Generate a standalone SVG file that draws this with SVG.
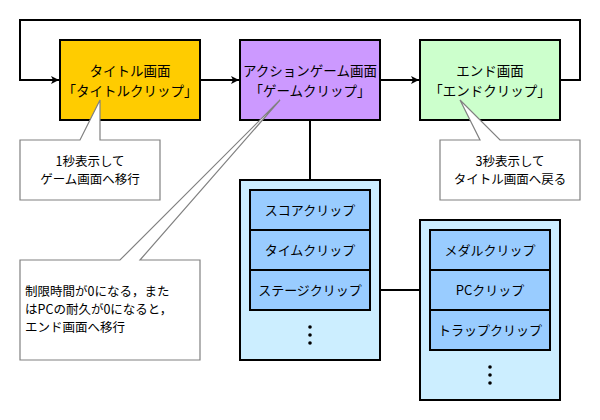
<svg xmlns="http://www.w3.org/2000/svg" width="600" height="420" viewBox="0 0 600 420">
<style>
text{font-family:"Noto Sans CJK JP","Noto Sans",sans-serif;fill:#000}
.n{stroke:#000;stroke-width:2}
.t{font-size:13.5px;text-anchor:middle}
.c{font-size:13px;text-anchor:middle}
.co{fill:#fff;stroke:#808080;stroke-width:1.2}
.ct{font-size:12.5px;text-anchor:middle}
.cl{font-size:12.5px}
.w{fill:none;stroke:#000;stroke-width:2}
</style>
<defs>
<marker id="ah" viewBox="0 0 10 10" refX="10" refY="5" markerWidth="8" markerHeight="8" orient="auto" markerUnits="userSpaceOnUse">
<path d="M0,0 L10,5 L0,10 L2.5,5 Z" fill="#000"/>
</marker>
</defs>
<g id="connectors">
<path class="w" d="M560,80 H580 V20 H20 V80 H59" marker-end="url(#ah)"/>
<path class="w" d="M200,80 H239" marker-end="url(#ah)"/>
<path class="w" d="M380,80 H419" marker-end="url(#ah)"/>
<path class="w" d="M310,120 V180"/>
<path class="w" d="M370,290 H420"/>
</g>
<g id="title">
<rect class="n" x="60" y="40" width="140" height="80" fill="#FFCC00"/>
<text class="t" x="130" y="76">タイトル画面</text>
<text class="t" x="130" y="96">「タイトルクリップ」</text>
</g>
<g id="action">
<rect class="n" x="240" y="40" width="140" height="80" fill="#CC99FF"/>
<text class="t" x="310" y="76">アクションゲーム画面</text>
<text class="t" x="310" y="96">「ゲームクリップ」</text>
</g>
<g id="end">
<rect class="n" x="420" y="40" width="140" height="80" fill="#CCFFCC"/>
<text class="t" x="490" y="76">エンド画面</text>
<text class="t" x="490" y="96">「エンドクリップ」</text>
</g>
<g id="callout1">
<path class="co" d="M20,140 H80 L100,100 V140 H160 V200 H20 Z"/>
<text class="ct" x="90" y="166">1秒表示して</text>
<text class="ct" x="90" y="184">ゲーム画面へ移行</text>
</g>
<g id="callout2">
<path class="co" d="M20,260 H120 L280,100 L140,260 H200 V360 H20 Z"/>
<text class="cl" x="25" y="296">制限時間が0になる，また</text>
<text class="cl" x="25" y="314">はPCの耐久が0になると，</text>
<text class="cl" x="25" y="332">エンド画面へ移行</text>
</g>
<g id="callout3">
<path class="co" d="M440,140 H480 L460,100 L500,140 H580 V200 H440 Z"/>
<text class="ct" x="510" y="166">3秒表示して</text>
<text class="ct" x="510" y="184">タイトル画面へ戻る</text>
</g>
<g id="gameClips">
<rect class="n" x="240" y="180" width="140" height="180" fill="#CCEEFF"/>
<rect class="n" x="250" y="190" width="120" height="40" fill="#99CCFF"/>
<rect class="n" x="250" y="230" width="120" height="40" fill="#99CCFF"/>
<rect class="n" x="250" y="270" width="120" height="40" fill="#99CCFF"/>
<text class="c" x="310" y="215">スコアクリップ</text>
<text class="c" x="310" y="255">タイムクリップ</text>
<text class="c" x="310" y="295">ステージクリップ</text>
<circle cx="310" cy="327" r="1.8"/>
<circle cx="310" cy="335" r="1.8"/>
<circle cx="310" cy="343" r="1.8"/>
</g>
<g id="stageClips">
<rect class="n" x="420" y="220" width="140" height="180" fill="#CCEEFF"/>
<rect class="n" x="430" y="230" width="120" height="40" fill="#99CCFF"/>
<rect class="n" x="430" y="270" width="120" height="40" fill="#99CCFF"/>
<rect class="n" x="430" y="310" width="120" height="40" fill="#99CCFF"/>
<text class="c" x="490" y="255">メダルクリップ</text>
<text class="c" x="490" y="295">PCクリップ</text>
<text class="c" x="490" y="335">トラップクリップ</text>
<circle cx="490" cy="367" r="1.8"/>
<circle cx="490" cy="375" r="1.8"/>
<circle cx="490" cy="383" r="1.8"/>
</g>
</svg>
